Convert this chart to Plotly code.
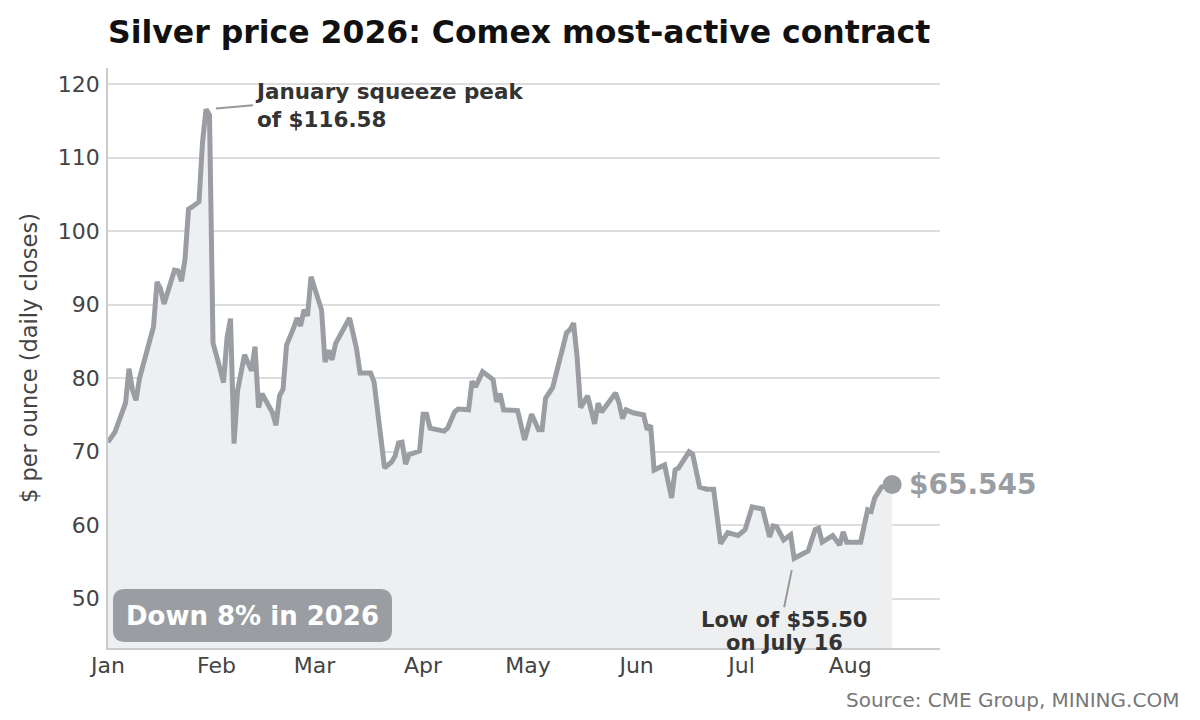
import plotly.graph_objects as go

# daily closes (most-active Comex silver contract)
dates = [
    "2026-01-01", "2026-01-03", "2026-01-06", "2026-01-07", "2026-01-08", "2026-01-09",
    "2026-01-10", "2026-01-12", "2026-01-14", "2026-01-15", "2026-01-16", "2026-01-17",
    "2026-01-18", "2026-01-20", "2026-01-21", "2026-01-22", "2026-01-23", "2026-01-24",
    "2026-01-25", "2026-01-27", "2026-01-28", "2026-01-29", "2026-01-30", "2026-01-31",
    "2026-02-02", "2026-02-03", "2026-02-04", "2026-02-05", "2026-02-06", "2026-02-07",
    "2026-02-09", "2026-02-11", "2026-02-12", "2026-02-13", "2026-02-14", "2026-02-17",
    "2026-02-18", "2026-02-19", "2026-02-20", "2026-02-21", "2026-02-23", "2026-02-24",
    "2026-02-25", "2026-02-26", "2026-02-27", "2026-02-28", "2026-03-03", "2026-03-04",
    "2026-03-05", "2026-03-06", "2026-03-07", "2026-03-09", "2026-03-11", "2026-03-13",
    "2026-03-14", "2026-03-16", "2026-03-17", "2026-03-18", "2026-03-19", "2026-03-20",
    "2026-03-21", "2026-03-23", "2026-03-24", "2026-03-25", "2026-03-26", "2026-03-27",
    "2026-03-28", "2026-03-31", "2026-04-01", "2026-04-02", "2026-04-03", "2026-04-07",
    "2026-04-08", "2026-04-10", "2026-04-11", "2026-04-14", "2026-04-15", "2026-04-16",
    "2026-04-18", "2026-04-21", "2026-04-22", "2026-04-23", "2026-04-24", "2026-04-28",
    "2026-04-30", "2026-05-02", "2026-05-04", "2026-05-05", "2026-05-06", "2026-05-08",
    "2026-05-12", "2026-05-13", "2026-05-14", "2026-05-15", "2026-05-16", "2026-05-18",
    "2026-05-20", "2026-05-21", "2026-05-22", "2026-05-26", "2026-05-27", "2026-05-28",
    "2026-05-29", "2026-05-31", "2026-06-03", "2026-06-04", "2026-06-05", "2026-06-06",
    "2026-06-09", "2026-06-11", "2026-06-12", "2026-06-13", "2026-06-16", "2026-06-17",
    "2026-06-19", "2026-06-21", "2026-06-23", "2026-06-25", "2026-06-27", "2026-06-30",
    "2026-07-02", "2026-07-04", "2026-07-07", "2026-07-09", "2026-07-10", "2026-07-11",
    "2026-07-13", "2026-07-15", "2026-07-16", "2026-07-20", "2026-07-22", "2026-07-23",
    "2026-07-24", "2026-07-27", "2026-07-29", "2026-07-30", "2026-07-31", "2026-08-04",
    "2026-08-06", "2026-08-07", "2026-08-08", "2026-08-10", "2026-08-13",
]
prices = [
    71.3, 72.7, 76.6, 81.3, 78.4, 77.0,
    80.0, 83.6, 87.0, 93.1, 92.2, 90.1,
    91.6, 94.7, 94.6, 93.2, 96.2, 103.0,
    103.3, 104.0, 112.1, 116.58, 115.8, 84.8,
    81.3, 79.4, 85.5, 88.1, 71.1, 78.3,
    83.2, 81.0, 84.3, 76.0, 77.9, 75.3,
    73.6, 77.6, 78.5, 84.5, 86.8, 88.2,
    87.1, 89.3, 88.5, 93.8, 89.3, 82.2,
    83.8, 82.5, 84.7, 86.6, 88.2, 84.0,
    80.7, 80.7, 80.7, 79.5, 75.7, 72.7,
    67.8, 68.6, 69.4, 71.2, 71.3, 68.3,
    69.6, 70.1, 75.1, 75.1, 73.2, 72.8,
    73.2, 75.4, 75.8, 75.7, 79.6, 78.8,
    80.9, 79.8, 76.8, 77.9, 75.7, 75.6,
    71.6, 75.1, 73.0, 73.0, 77.3, 78.7,
    86.2, 86.6, 87.5, 82.9, 76.0, 77.6,
    73.8, 76.6, 75.4, 78.0, 76.6, 74.5,
    75.7, 75.3, 75.0, 73.0, 73.6, 67.5,
    68.2, 63.7, 67.5, 67.8, 70.0, 69.7,
    65.2, 64.9, 64.9, 57.5, 59.0, 58.6,
    59.4, 62.5, 62.2, 58.4, 59.9, 59.8,
    58.0, 58.7, 55.5, 56.5, 59.4, 59.6,
    57.7, 58.6, 57.3, 59.1, 57.7, 57.7,
    62.1, 61.9, 63.7, 65.2, 65.545,
]

peak_date, peak_price = "2026-01-29", 116.58
low_date, low_price = "2026-07-16", 55.50
ytd_change = "Down 8% in 2026"

line_grey = "#9a9ea3"
font = "DejaVu Sans"

# page body adds an 8px margin, so the figure is drawn 8px smaller
W, H = 1192, 712
L, T, R, B = 100, 60, 260, 72
pw, ph = W - L - R, H - T - B

fig = go.Figure()
fig.add_trace(go.Scatter(
    x=dates, y=prices,
    mode="lines",
    line=dict(color=line_grey, width=5),
    fill="tozeroy",
    fillcolor="#eeeff1",
    hoverinfo="x+y",
))
fig.add_trace(go.Scatter(
    x=[dates[-1]], y=[prices[-1]],
    mode="markers",
    marker=dict(color=line_grey, size=19),
    hoverinfo="skip",
))

# rounded badge, paper coordinates
x0, x1, y0, y1 = 5 / pw, 284 / pw, 6 / ph, 59 / ph
rx, ry = 12 / pw, 12 / ph
badge = (f"M{x0 + rx},{y0} L{x1 - rx},{y0} Q{x1},{y0} {x1},{y0 + ry} "
         f"L{x1},{y1 - ry} Q{x1},{y1} {x1 - rx},{y1} L{x0 + rx},{y1} "
         f"Q{x0},{y1} {x0},{y1 - ry} L{x0},{y0 + ry} Q{x0},{y0} {x0 + rx},{y0} Z")

fig.update_layout(
    width=W, height=H,
    margin=dict(l=L, r=R, t=T, b=B),
    paper_bgcolor="white", plot_bgcolor="white",
    showlegend=False,
    font=dict(family=font, color="#444444", size=22),
    title=dict(
        text="Silver price 2026: Comex most-active contract",
        x=L / W, xanchor="left", xref="container",
        y=1 - 24 / H, yanchor="middle", yref="container",
        font=dict(family=font, size=31.5, color="#111111", weight="bold"),
    ),
    xaxis=dict(
        range=["2026-01-01", "2026-08-26 16:00"],
        tick0="2026-01-01", dtick="M1", tickformat="%b",
        showgrid=False, zeroline=False,
        showline=True, linecolor="#cccccc", linewidth=1.5,
        ticks="", ticklabelstandoff=-3,
        tickfont=dict(size=22, color="#444444"),
    ),
    yaxis=dict(
        range=[43.3, 122.2],
        tickvals=[50, 60, 70, 80, 90, 100, 110, 120],
        showgrid=True, gridcolor="#dddddd", gridwidth=1.5,
        zeroline=False,
        showline=True, linecolor="#cccccc", linewidth=1.5,
        ticks="", ticklabelstandoff=2,
        tickfont=dict(size=22, color="#444444"),
    ),
    shapes=[dict(type="path", xref="paper", yref="paper", path=badge,
                 fillcolor=line_grey, line=dict(width=0), layer="above")],
)

fig.add_annotation(
    x=peak_date, y=peak_price,
    text=f"January squeeze peak<br>of ${peak_price:.2f}",
    showarrow=True, arrowhead=0, arrowwidth=2, arrowcolor="#999999",
    ax=47, ay=-4, axref="pixel", ayref="pixel", standoff=10,
    xanchor="left", yanchor="middle", align="left",
    font=dict(family=font, size=21.5, color="#333333", weight="bold"),
)
# low call-out: two lines set as two annotations to keep the spacing tight
fig.add_annotation(
    x=low_date, y=low_price,
    text=f"Low of ${low_price:.2f}",
    showarrow=True, arrowhead=0, arrowwidth=2, arrowcolor="#999999",
    ax=-10, ay=49, axref="pixel", ayref="pixel", standoff=12,
    xanchor="center", yanchor="top", align="center", borderpad=0,
    font=dict(family=font, size=21, color="#333333", weight="bold"),
)
fig.add_annotation(
    x=low_date, y=low_price,
    text="on July 16",
    showarrow=False, xanchor="center", yanchor="middle", borderpad=0,
    xshift=-10, yshift=-85,
    font=dict(family=font, size=21, color="#333333", weight="bold"),
)
fig.add_annotation(
    x=dates[-1], y=prices[-1],
    text=f"${prices[-1]:.3f}",
    showarrow=False, xanchor="left", yanchor="middle", xshift=15,
    font=dict(family=font, size=28, color=line_grey, weight="bold"),
)
fig.add_annotation(
    x=(x0 + x1) / 2, y=(y0 + y1) / 2, xref="paper", yref="paper",
    text=ytd_change, showarrow=False, xanchor="center", yanchor="middle",
    font=dict(family=font, size=26, color="white", weight="bold"),
)
fig.add_annotation(
    x=-79 / pw, y=0.5, xref="paper", yref="paper",
    text="$ per ounce (daily closes)", textangle=-90, showarrow=False,
    xanchor="center", yanchor="middle",
    font=dict(family=font, size=22.5, color="#444444"),
)
fig.add_annotation(
    x=1073 / pw, y=-52 / ph, xref="paper", yref="paper",
    text="Source: CME Group, MINING.COM", showarrow=False,
    xanchor="right", yanchor="middle",
    font=dict(family=font, size=20, color="#777777"),
)

fig.write_html("out.html")
